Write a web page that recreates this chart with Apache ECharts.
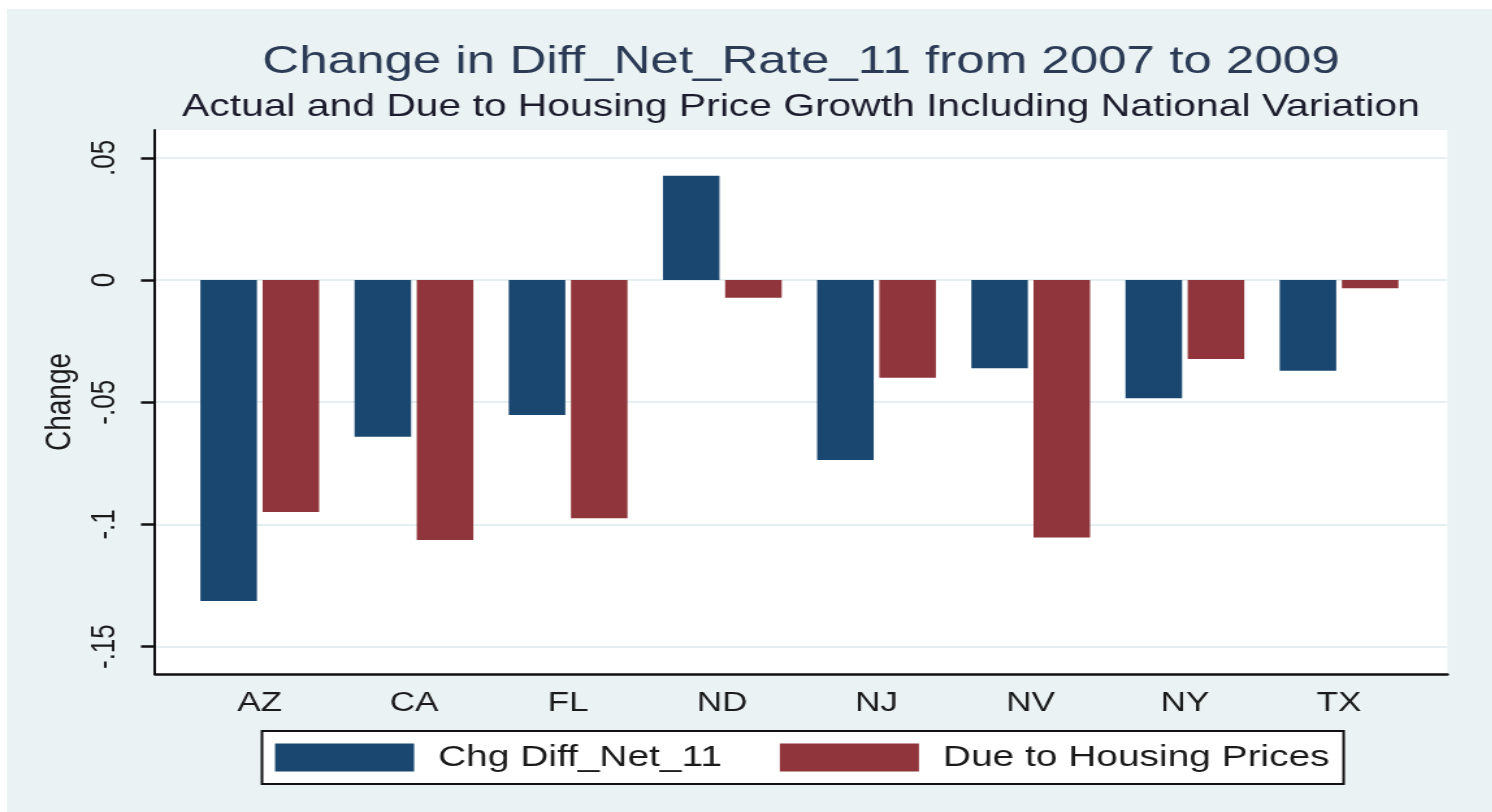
<!DOCTYPE html>
<html><head><meta charset="utf-8">
<script src="https://cdn.jsdelivr.net/npm/echarts@6/dist/echarts.min.js"></script>
<style>
html,body{margin:0;padding:0;background:#fff;width:1492px;height:812px;overflow:hidden;}
#panel{position:absolute;left:7px;top:9px;right:0;bottom:0;background:#eaf2f3;}
#chart{position:absolute;left:0;top:0;height:812px;transform-origin:0 0;}
</style></head><body>
<div id="panel"></div>
<div id="chart"></div>
<script>
// ---- data ----
const categories = ['AZ', 'CA', 'FL', 'ND', 'NJ', 'NV', 'NY', 'TX'];
const chgDiffNet11 = [-0.1313, -0.0641, -0.0552, 0.0427, -0.0736, -0.0361, -0.0484, -0.0371];
const dueToHousingPrices = [-0.0949, -0.1064, -0.0975, -0.0072, -0.0400, -0.1053, -0.0323, -0.0034];
const yTicks = [-0.15, -0.1, -0.05, 0, 0.05];
const seriesNames = ['Chg Diff_Net_11', 'Due to Housing Prices'];
const titleText = 'Change in Diff_Net_Rate_11 from 2007 to 2009';
const subtitleText = 'Actual and Due to Housing Price Growth Including National Variation';
const yAxisName = 'Change';

// ---- layout (the reference picture is horizontally stretched; reproduce with scaleX) ----
const S = 1.3;
const W = 1492 / S;
const el = document.getElementById('chart');
el.style.width = W + 'px';
el.style.transform = 'scaleX(' + S + ')';

const FONT = "'Liberation Sans', Arial, sans-serif";
const Y_MIN = -0.1612, Y_MAX = 0.0614;
const fmt = v => {
  if (Math.abs(v) < 1e-9) return '0';
  return String(+v.toFixed(3)).replace('0.', '.');
};

const frameLeft = 155 / S, frameRight = W - 1447 / S;
const barsLeft = (259.7 - 77.05) / S, barsRight = W - (1338.7 + 77.05) / S;

const chart = echarts.init(el);
chart.setOption({
  backgroundColor: 'transparent',
  animation: false,
  title: [{
    text: titleText,
    left: 801 / S, textAlign: 'center', top: 43, padding: 0,
    textStyle: { fontFamily: FONT, fontSize: 39.3, fontWeight: 'normal', color: '#2b3a55' }
  }, {
    text: subtitleText,
    left: 801 / S, textAlign: 'center', top: 92, padding: 0,
    textStyle: { fontFamily: FONT, fontSize: 31.4, fontWeight: 'normal', color: '#1c1c2c' }
  }],
  legend: {
    data: seriesNames,
    left: 262 / S, top: 731,
    orient: 'horizontal',
    backgroundColor: '#fff', borderColor: '#111', borderWidth: 2,
    padding: [11.5, 10.8, 11.5, 10],
    itemWidth: 107, itemHeight: 28, itemGap: 44.6,
    icon: 'rect',
    textStyle: { fontFamily: FONT, fontSize: 29.9, color: '#1a1a1a', padding: [0, 0, 0, 13.5] }
  },
  grid: [{
    left: frameLeft, right: frameRight, top: 130, bottom: 138,
    show: true, backgroundColor: '#fff', borderWidth: 0
  }, {
    left: barsLeft, right: barsRight, top: 130, bottom: 138
  }],
  xAxis: [{
    type: 'category', gridIndex: 0, data: categories,
    axisLine: { onZero: false, lineStyle: { color: '#111', width: 2.5 } },
    axisTick: { show: false }, axisLabel: { show: false }, splitLine: { show: false }
  }, {
    type: 'category', gridIndex: 1, data: categories,
    axisLine: { show: false, onZero: false }, axisTick: { show: false },
    axisLabel: { fontFamily: FONT, fontSize: 27, color: '#1a1a1a', margin: 16 },
    splitLine: { show: false }
  }],
  yAxis: [{
    type: 'value', gridIndex: 0, min: Y_MIN, max: Y_MAX,
    name: yAxisName, nameLocation: 'middle', nameRotate: 90, nameGap: 51,
    nameTextStyle: { fontFamily: FONT, fontSize: 28, color: '#1a1a1a' },
    axisLine: { show: true, lineStyle: { color: '#111', width: 2 } },
    axisTick: { show: true, length: 14 / S, customValues: yTicks, lineStyle: { color: '#111', width: 2.5 } },
    axisLabel: { customValues: yTicks, rotate: 90, margin: 25, formatter: fmt,
                 fontFamily: FONT, fontSize: 26, color: '#1a1a1a' },
    splitLine: { show: true, lineStyle: { color: '#e6eff2', width: 2 } }
  }, {
    type: 'value', gridIndex: 1, min: Y_MIN, max: Y_MAX, show: false,
    splitLine: { show: false }
  }],
  series: [{
    name: seriesNames[0], type: 'bar', xAxisIndex: 1, yAxisIndex: 1,
    data: chgDiffNet11, barWidth: 43.5, barGap: '10%',
    itemStyle: { color: '#1a476f' }
  }, {
    name: seriesNames[1], type: 'bar', xAxisIndex: 1, yAxisIndex: 1,
    data: dueToHousingPrices, barWidth: 43.5, barGap: '10%',
    itemStyle: { color: '#90353b' }
  }]
});
</script>
</body></html>
